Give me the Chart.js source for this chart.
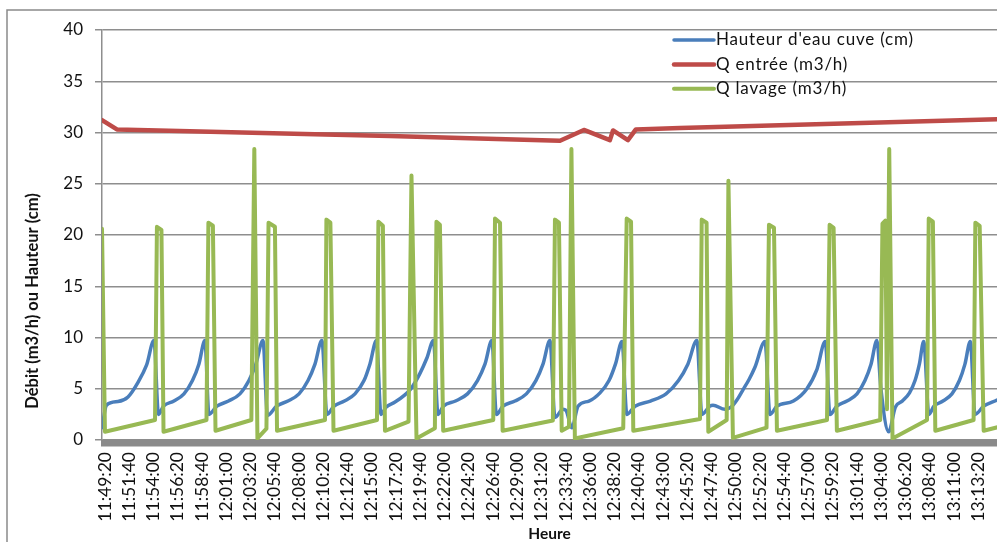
<!DOCTYPE html>
<html><head><meta charset="utf-8">
<script src="https://cdn.jsdelivr.net/npm/chart.js@4.4.1/dist/chart.umd.min.js"></script>
<style>html,body{margin:0;padding:0;background:#fff;overflow:hidden}canvas{display:block}</style>
</head><body>
<canvas id="c" width="997" height="542"></canvas>
<script>
// Tick labels of the time axis (Heure)
const tickLabels = ["11:49:20","11:51:40","11:54:00","11:56:20","11:58:40","12:01:00","12:03:20","12:05:40","12:08:00","12:10:20","12:12:40","12:15:00","12:17:20","12:19:40","12:22:00","12:24:20","12:26:40","12:29:00","12:31:20","12:33:40","12:36:00","12:38:20","12:40:40","12:43:00","12:45:20","12:47:40","12:50:00","12:52:20","12:54:40","12:57:00","12:59:20","13:01:40","13:04:00","13:06:20","13:08:40","13:11:00","13:13:20"];
const seriesNames = ["Hauteur d'eau cuve (cm)", "Q entrée (m3/h)", "Q lavage (m3/h)"];
const xRange = [-17, 5148]; // seconds after 11:49:20

// Hauteur d'eau cuve (cm): time (s after 11:49:20) and value
const hauteurT = [-17,9,75,133,190,240,283,309,338,398,456,505,542,577,600,646,713,779,831,871,912,938,990,1056,1120,1172,1212,1252,1281,1322,1382,1443,1495,1529,1567,1593,1622,1674,1731,1766,1818,1858,1896,1922,1953,2023,2092,2150,2193,2233,2259,2297,2366,2432,2487,2528,2568,2597,2643,2660,2695,2730,2793,2857,2909,2946,2984,3012,3059,3148,3238,3310,3364,3416,3445,3491,3509,3578,3613,3647,3682,3717,3751,3809,3838,3878,3973,4051,4109,4157,4184,4224,4282,4340,4386,4421,4455,4478,4523,4561,4602,4643,4675,4700,4725,4755,4784,4836,4888,4931,4963,4994,5021,5071,5148,5165];
const hauteurV = [1.2,3.4,3.75,4.2,5.6,7.3,9.7,2.5,3.3,3.8,4.5,5.8,7.4,9.7,2.5,3.3,3.8,4.5,5.8,7.4,9.7,2.4,3.3,3.8,4.5,5.8,7.4,9.7,2.5,3.3,3.8,4.5,5.8,7.4,9.7,2.5,3.2,3.7,4.4,5.0,6.5,8.0,9.7,2.5,3.3,3.8,4.5,5.8,7.4,9.7,2.5,3.3,3.8,4.5,5.8,7.4,9.7,2.2,3.0,2.9,1.2,3.3,3.8,4.6,5.8,7.4,9.6,2.5,3.3,3.8,4.5,5.8,7.4,9.7,2.5,3.3,3.4,3.0,3.2,3.9,4.9,5.9,7.1,9.6,2.5,3.3,3.8,5.0,6.9,9.6,2.5,3.3,3.8,4.5,5.8,7.4,9.7,5.0,0.8,3.2,3.8,4.6,5.8,7.4,9.6,2.5,3.3,3.8,4.5,5.8,7.4,9.6,2.5,3.3,3.9,4.05];

// Q entrée (m3/h)
const entreeT = [-17,69,1270,1645,2106,2626,2764,2914,2932,3018,3064,3318,5148,5171];
const entreeV = [31.2,30.3,29.8,29.65,29.45,29.2,30.25,29.25,30.2,29.25,30.3,30.45,31.3,31.3];

// Q lavage (m3/h)
const lavageT = [-17,0,289,300,326,338,586,597,623,638,845,862,880,932,944,981,993,1270,1278,1301,1319,1570,1578,1604,1616,1752,1769,1798,1904,1913,1933,1952,2241,2251,2280,2295,2585,2597,2620,2636,2678,2692,2712,2991,3011,3036,3049,3434,3444,3472,3482,3588,3598,3624,3818,3832,3861,3878,4167,4182,4205,4224,4474,4487,4504,4513,4526,4545,4744,4754,4778,4792,5013,5023,5048,5071,5165];
const lavageV = [20.6,0.8,1.95,20.8,20.5,0.8,1.95,21.2,20.9,0.9,1.95,28.4,0.15,1.1,21.2,20.8,0.9,1.95,21.5,21.2,0.9,1.95,21.3,20.9,0.9,1.8,25.8,0.15,1.15,21.3,21.0,0.9,1.95,21.6,21.2,0.9,1.9,21.5,21.2,0.9,1.3,28.4,0.15,1.15,21.6,21.3,0.9,2.05,21.5,21.2,0.8,1.95,25.3,0.2,1.2,21.0,20.7,0.9,1.95,21.0,20.7,0.9,1.95,21.1,21.4,3.0,28.4,0.15,1.95,21.6,21.3,0.9,1.95,21.2,20.9,0.9,1.3];

const toSec = s => { const p = s.split(':').map(Number); return p[0]*3600 + p[1]*60 + p[2]; };
const t0 = toSec(tickLabels[0]);
const pts = (T, V) => T.map((t, i) => ({x: t, y: V[i]}));

const FONT = 'Lato';
const GRID = '#8e8e8e';
const TXT = '#111';

const extras = {
  id: 'extras',
  beforeDatasetsDraw(chart) {
    const {ctx, chartArea: a} = chart;
    ctx.save();
    ctx.fillStyle = '#8a8a8a';
    ctx.fillRect(a.left - 1, a.bottom - 0.5, a.right - a.left + 1, 7);
    ctx.restore();
  },
  afterDraw(chart) {
    const {ctx} = chart;
    ctx.save();
    // outer frame
    ctx.strokeStyle = '#8a8a8a'; ctx.lineWidth = 1.5;
    ctx.beginPath(); ctx.moveTo(7, 560); ctx.lineTo(7, 10); ctx.lineTo(1000, 10); ctx.stroke();
    // y title
    ctx.translate(33, 301); ctx.rotate(-Math.PI/2);
    ctx.font = 'bold 16.5px ' + FONT; ctx.fillStyle = TXT;
    ctx.textAlign = 'center'; ctx.textBaseline = 'middle';
    ctx.fillText('Débit (m3/h) ou Hauteur (cm)', 0, 0);
    ctx.restore();
    // legend
    ctx.save();
    chart.data.datasets.forEach((ds, i) => {
      const y = 40 + i * 24.4;
      ctx.strokeStyle = ds.borderColor; ctx.lineWidth = ds.borderWidth; ctx.lineCap = 'round';
      ctx.beginPath(); ctx.moveTo(674, y); ctx.lineTo(714, y); ctx.stroke();
      ctx.font = '17px ' + FONT; ctx.fillStyle = TXT; ctx.textBaseline = 'middle'; ctx.textAlign = 'left';
      ctx.letterSpacing = '0.8px';
      ctx.fillText(ds.label, 716, y);
    });
    ctx.restore();
  }
};

Chart.defaults.font.family = FONT;
new Chart(document.getElementById('c'), {
  type: 'line',
  data: {
    datasets: [
      {label: seriesNames[0], data: pts(hauteurT, hauteurV), borderColor: '#4A7EBB', borderWidth: 3.5, cubicInterpolationMode: 'monotone', order: 3},
      {label: seriesNames[1], data: pts(entreeT, entreeV), borderColor: '#BE4B48', borderWidth: 4.5, order: 2},
      {label: seriesNames[2], data: pts(lavageT, lavageV), borderColor: '#98B954', borderWidth: 4, order: 1}
    ]
  },
  options: {
    responsive: false, animation: false, devicePixelRatio: 1,
    elements: {point: {radius: 0}, line: {borderJoinStyle: 'round', borderCapStyle: 'round', tension: 0}},
    layout: {padding: {top: 30, left: 0, right: 0, bottom: 0}},
    plugins: {legend: {display: false}, tooltip: {enabled: false}},
    scales: {
      x: {
        type: 'linear', min: xRange[0], max: xRange[1],
        afterBuildTicks: s => { s.ticks = tickLabels.map(l => ({value: toSec(l) - t0})); },
        afterFit: s => { s.height = 102; s.paddingLeft = 0; s.paddingRight = 0; },
        grid: {display: false, drawTicks: true, tickLength: 6},
        border: {display: false},
        ticks: {autoSkip: false, minRotation: 90, maxRotation: 90, padding: 6, color: TXT, font: {size: 17.5},
                callback: (v, i) => tickLabels[i]},
        title: {display: true, text: 'Heure', color: TXT, font: {size: 15.5, weight: 'bold', lineHeight: 1}, padding: {top: 0, bottom: 0}}
      },
      y: {
        min: 0, max: 40,
        afterFit: s => { s.width = 102; },
        ticks: {stepSize: 5, padding: 12, color: TXT, font: {size: 17}},
        grid: {color: GRID, lineWidth: 1.5, tickLength: 7, tickColor: GRID},
        border: {color: GRID, width: 1.5}
      }
    }
  },
  plugins: [extras]
});
</script>
</body></html>
